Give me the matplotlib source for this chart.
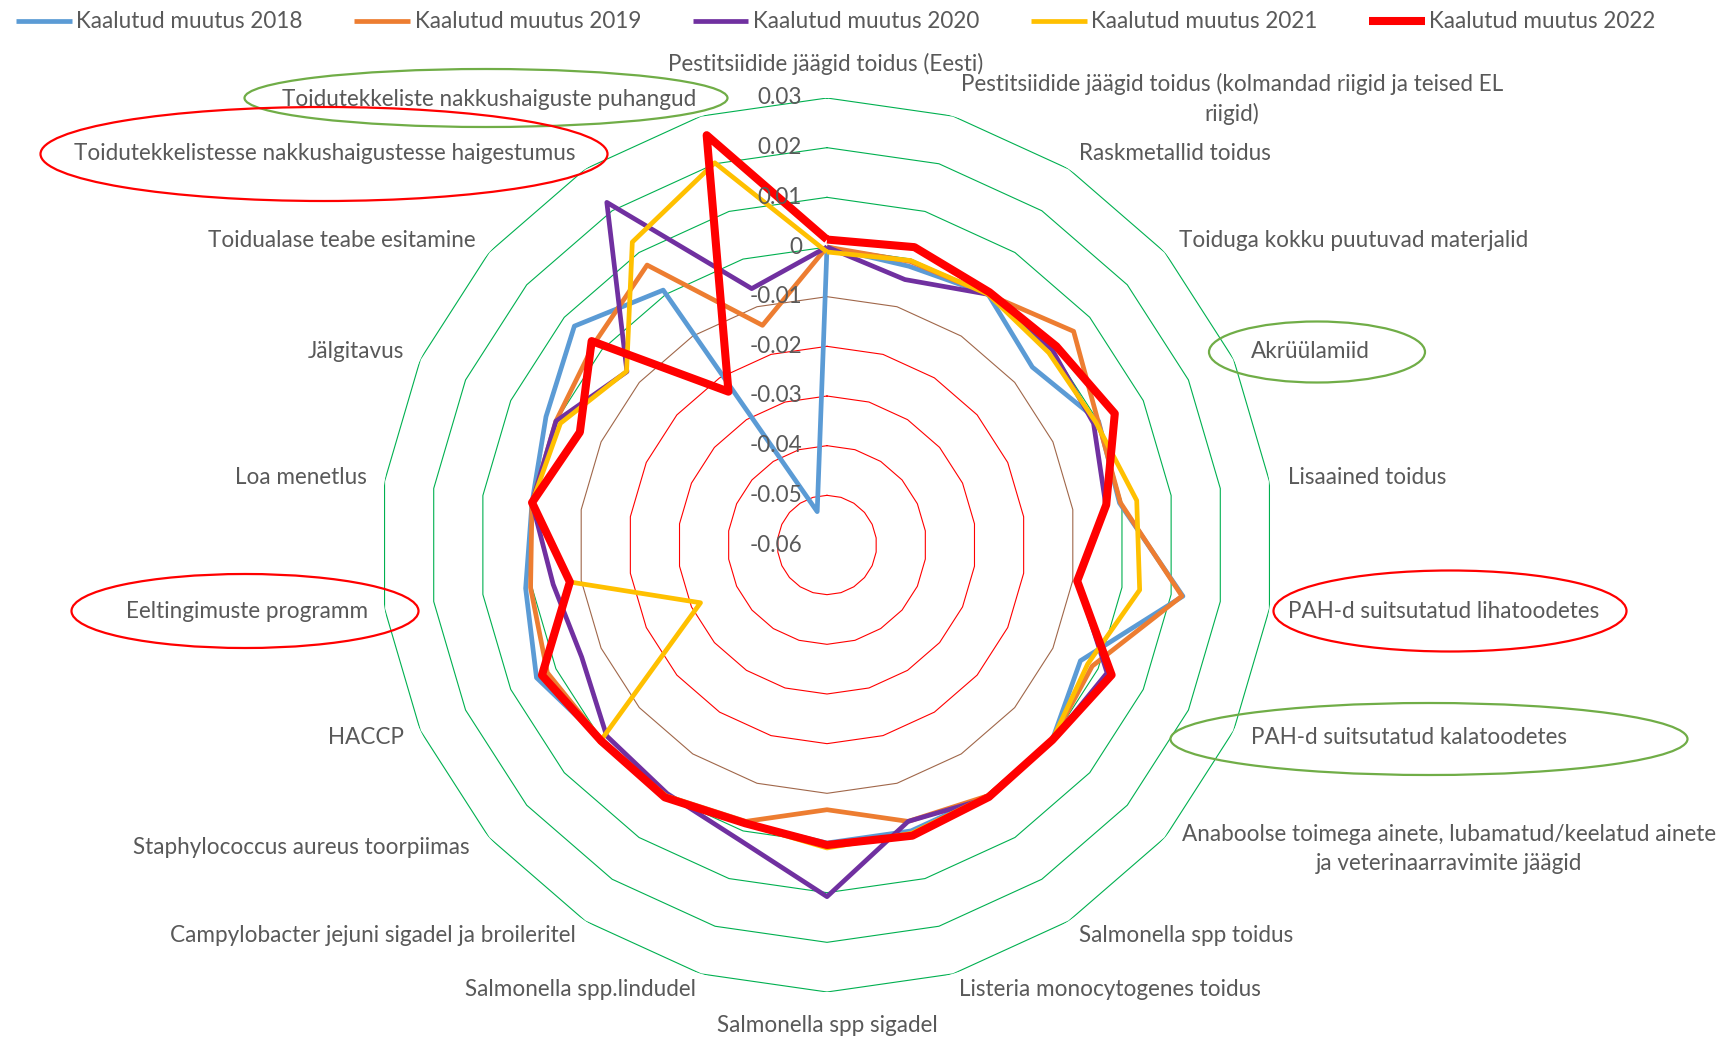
import numpy as np
import matplotlib
matplotlib.use("Agg")
import matplotlib.pyplot as plt
from matplotlib.patches import Ellipse

# ---------------- data ----------------
categories = [
    "Pestitsiidide jäägid toidus (Eesti)",
    "Pestitsiidide jäägid toidus (kolmandad riigid ja teised EL\nriigid)",
    "Raskmetallid toidus",
    "Toiduga kokku puutuvad materjalid",
    "Akrüülamiid",
    "Lisaained toidus",
    "PAH-d suitsutatud lihatoodetes",
    "PAH-d suitsutatud kalatoodetes",
    "Anaboolse toimega ainete, lubamatud/keelatud ainete\nja veterinaarravimite jäägid",
    "Salmonella spp toidus",
    "Listeria monocytogenes toidus",
    "Salmonella spp sigadel",
    "Salmonella spp.lindudel",
    "Campylobacter jejuni sigadel ja broileritel",
    "Staphylococcus aureus toorpiimas",
    "HACCP",
    "Eeltingimuste programm",
    "Loa menetlus",
    "Jälgitavus",
    "Toidualase teabe esitamine",
    "Toidutekkelistesse nakkushaigustesse haigestumus",
    "Toidutekkeliste nakkushaiguste puhangud",
]

series_names = ["Kaalutud muutus 2018", "Kaalutud muutus 2019", "Kaalutud muutus 2020",
                "Kaalutud muutus 2021", "Kaalutud muutus 2022"]

v2018 = [0.0, -0.0015, 0.0, -0.0053, 0.0001, -0.0005, 0.0124, -0.0039, 0.0, 0.0, 0.0,
         0.0, -0.0015, 0.0, 0.0, 0.0043, 0.0013, 0.0, 0.0022, 0.0073, 0.001, -0.053]
v2019 = [0.0, -0.0005, 0.0, 0.0057, 0.0, -0.0003, 0.0122, -0.0013, 0.0, 0.0, -0.002,
         -0.0067, -0.002, 0.0, 0.0, 0.0019, 0.0003, 0.0, 0.0, 0.002, 0.007, -0.0139]
v2020 = [0.0, -0.0043, 0.0, 0.0, -0.001, -0.0033, -0.009, 0.002, 0.0, 0.0005, -0.002,
         0.0108, 0.002, -0.0005, -0.0013, -0.0057, -0.0043, 0.0, 0.0, -0.0067, 0.022, -0.0062]
v2021 = [-0.001, -0.0003, 0.0, -0.0009, -0.0005, 0.003, 0.0036, -0.0023, 0.0, 0.0, 0.0005,
         0.001, -0.0015, 0.0, 0.0005, -0.032, -0.0077, 0.0, -0.001, -0.0066, 0.0125, 0.0202]
v2022 = [0.0015, 0.0025, 0.0005, 0.0011, 0.0037, -0.0032, -0.0091, 0.003, 0.0, 0.0003, 0.001,
         0.0004, -0.0016, 0.0004, 0.0002, 0.0031, -0.0077, 0.0, -0.0053, 0.0027, -0.0233, 0.026]

ring_values = [-0.05, -0.04, -0.03, -0.02, -0.01, 0.0, 0.01, 0.02, 0.03]
tick_values = [0.03, 0.02, 0.01, 0.0, -0.01, -0.02, -0.03, -0.04, -0.05, -0.06]
tick_labels = ["0.03", "0.02", "0.01", "0", "-0.01", "-0.02", "-0.03", "-0.04", "-0.05", "-0.06"]

# ---------------- layout / style ----------------
W, H = 1723, 1040
CX, CY, R = 827, 545, 447
TXT = "#595959"
FONT = "Lato"

fig = plt.figure(figsize=(W / 100, H / 100), dpi=100)
fig.patch.set_facecolor("white")

# font size chosen so that the longest label has the reference width
renderer = fig.canvas.get_renderer()
probe = fig.text(0, 0, categories[20], fontsize=10, family=FONT)
pw = probe.get_window_extent(renderer).width
probe.remove()
FS = 10 * 503 / pw

ax = fig.add_axes([(CX - R) / W, (H - CY - R) / H, 2 * R / W, 2 * R / H], projection="polar")
ax.set_theta_zero_location("N")
ax.set_theta_direction(-1)
ax.set_ylim(-0.06, 0.03)
ax.grid(False)
ax.set_xticks([])
ax.set_yticks([])
ax.spines["polar"].set_visible(False)
ax.patch.set_alpha(0)

n = len(categories)
theta = np.arange(n) * 2 * np.pi / n
theta_c = np.append(theta, theta[0])

# polygon gridlines
for v in ring_values:
    if v <= -0.02 + 1e-9:
        col = "#FF0000"
    elif abs(v + 0.01) < 1e-9:
        col = "#A0674A"
    else:
        col = "#00B050"
    ax.plot(theta_c, [v] * (n + 1), color=col, lw=0.8, zorder=1)

colors = ["#5B9BD5", "#ED7D31", "#7030A0", "#FFC000", "#FF0000"]
widths = [3.4, 3.4, 3.4, 3.4, 5.8]
handles = []
for vals, name, col, lw in zip([v2018, v2019, v2020, v2021, v2022], series_names, colors, widths):
    h, = ax.plot(theta_c, list(vals) + [vals[0]], color=col, lw=lw, label=name,
                 solid_joinstyle="round", solid_capstyle="butt", zorder=3, clip_on=False)
    handles.append(h)

# radial tick labels
for v, lab in zip(tick_values, tick_labels):
    ax.annotate(lab, xy=(0, v), xytext=(-18, 0), textcoords="offset points",
                ha="right", va="center", fontsize=FS, color=TXT, family=FONT, zorder=4)

label_pos = [
    (826, 64, "center"), (1232, 99, "center"), (1079, 154, "left"), (1179, 240, "left"),
    (1251, 352, "left"), (1288, 478, "left"), (1288, 611, "left"), (1251, 737, "left"),
    (1449, 849, "center"), (1079, 935, "left"), (959, 990, "left"), (827, 1025, "center"),
    (696, 990, "right"), (576, 935, "right"), (470, 848, "right"), (404, 737, "right"),
    (368, 611, "right"), (367, 478, "right"), (404, 352, "right"), (476, 240, "right"),
    (576, 154, "right"), (696, 99, "right"),
]
for cat, (x, y, ha) in zip(categories, label_pos):
    fig.text(x / W, 1 - y / H, cat, ha=ha, va="center", ma="center", fontsize=FS,
             color=TXT, family=FONT, linespacing=1.45)

# highlight ellipses
ellipses = [
    (486, 98, 483, 58, "#70AD47"),
    (324, 154, 567, 94, "#FF0000"),
    (1317, 352, 216, 61, "#70AD47"),
    (1450, 611, 353, 81, "#FF0000"),
    (1429, 739, 517, 72, "#70AD47"),
    (245, 611, 347, 74, "#FF0000"),
]
for x, y, w, h, col in ellipses:
    fig.add_artist(Ellipse((x / W, 1 - y / H), w / W, h / H, transform=fig.transFigure,
                           fill=False, ec=col, lw=1.6, zorder=5))

# legend
fig.legend(handles, series_names, loc="center left", bbox_to_anchor=(16 / W, 1 - 22 / H),
           ncol=5, frameon=False, prop={"family": FONT, "size": FS}, labelcolor=TXT,
           handlelength=2.47, handletextpad=0.2, columnspacing=2.3,
           borderpad=0, borderaxespad=0)

fig.savefig("out.png", dpi=100, facecolor="white")
